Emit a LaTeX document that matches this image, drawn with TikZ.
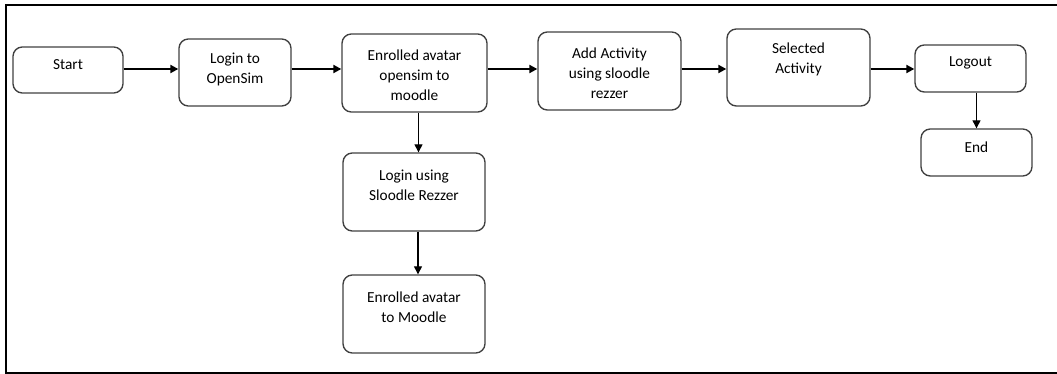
\documentclass[tikz,border=0pt]{standalone}
\usepackage{fontspec}
\setmainfont{Carlito}
\usetikzlibrary{arrows.meta}
\begin{document}
\begin{tikzpicture}[x=0.75pt,y=-0.75pt,
  stepbox/.style 2 args={draw=black!75,line width=1pt,rounded corners=7pt,
    minimum width=#1*0.75pt,minimum height=#2*0.75pt,inner sep=0pt},
  txt/.style={align=center,inner sep=0pt,font=\fontsize{11.5}{15}\selectfont},
  flow/.style={line width=1.5pt,-{Triangle[length=6pt,width=6pt]}},
  down/.style={line width=0.8pt,-{Triangle[length=6pt,width=6pt]}}]
\useasboundingbox (0,0) rectangle (1057,374);
\draw [line width=1.5pt] (6,5) rectangle (1062,373);
\node [stepbox={110}{46}] (start) at (68,70) {};
\node [txt] (start-t) at (68,65) {Start};
\node [stepbox={112}{67}] (login) at (235,72.5) {};
\node [txt] (login-t) at (235,69) {Login to\\OpenSim};
\node [stepbox={145}{78}] (enrol) at (414.5,73) {};
\node [txt] (enrol-t) at (414.5,75) {Enrolled avatar\\opensim to\\moodle};
\node [stepbox={143}{78}] (addact) at (609.5,71) {};
\node [txt] (addact-t) at (609.5,73) {Add Activity\\using sloodle\\rezzer};
\node [stepbox={143}{77}] (selact) at (798.5,67.5) {};
\node [txt] (selact-t) at (798.5,59) {Selected\\Activity};
\node [stepbox={111}{47}] (logout) at (970.5,68.5) {};
\node [txt] (logout-t) at (970.5,63) {Logout};
\node [stepbox={111}{47}] (end) at (976.5,152.5) {};
\node [txt] (end-t) at (976.5,147) {End};
\node [stepbox={142}{78}] (rezlogin) at (414,192) {};
\node [txt] (rezlogin-t) at (414,185.5) {Login using\\Sloodle Rezzer};
\node [stepbox={142}{78}] (moodle) at (414,314) {};
\node [txt] (moodle-t) at (414,307) {Enrolled avatar\\to Moodle};
\coordinate (row) at (0,69);
\draw [flow] (start.east |- row) -- (login.west |- row);
\draw [flow] (login.east |- row) -- (enrol.west |- row);
\draw [flow] (enrol.east |- row) -- (addact.west |- row);
\draw [flow] (addact.east |- row) -- (selact.west |- row);
\draw [flow] (selact.east |- row) -- (logout.west |- row);
\draw [down] ([xshift=3pt]enrol.south) -- ([xshift=3pt]enrol.south |- rezlogin.north);
\draw [down] ([xshift=3pt]rezlogin.south) -- ([xshift=3pt]rezlogin.south |- moodle.north);
\draw [down] (end.north |- logout.south) -- (end.north);
\end{tikzpicture}
\end{document}
